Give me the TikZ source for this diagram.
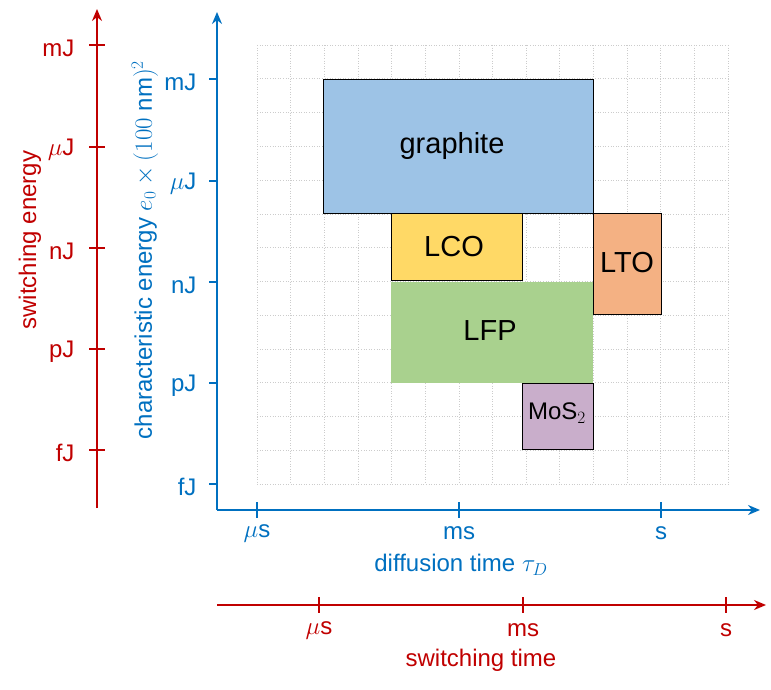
\documentclass[tikz,border=0pt]{standalone}
\usepackage{fontspec}
\setmainfont{Liberation Sans}
\usepackage{amsmath}
\usetikzlibrary{arrows.meta}
\definecolor{ablue}{HTML}{0070C0}
\definecolor{ared}{HTML}{C00000}
\definecolor{cgra}{HTML}{9DC3E6}
\definecolor{clco}{HTML}{FFD966}
\definecolor{clto}{HTML}{F4B183}
\definecolor{clfp}{HTML}{A9D18E}
\definecolor{cmos}{HTML}{C9AECB}
\begin{document}
\begin{tikzpicture}[x=1pt,y=-1pt,
  ax/.style={line width=1.8pt,-{Stealth[length=12pt,width=10pt]}},
  tk/.style={line width=1.4pt},
  lbl/.style={font=\fontsize{24}{28}\selectfont},
  box/.style={draw=black,line width=1pt},
  bl/.style={font=\fontsize{29}{32}\selectfont}]
\useasboundingbox (0,0) rectangle (771,690);
% grid
\foreach \i in {0,...,14} \draw[gray!40,dotted,line width=0.6pt] (257+33.64*\i,45) -- (257+33.64*\i,484);
\foreach \j in {0,...,13} \draw[gray!40,dotted,line width=0.6pt] (257,484-33.77*\j) -- (728,484-33.77*\j);
% boxes
\node[box,fill=cgra,minimum width=270pt,minimum height=134pt,anchor=north west,inner sep=0] (gra) at (323,79) {};
\node[bl] at (452,146) {graphite};
\node[box,fill=clco,minimum width=131pt,minimum height=67pt,anchor=north west,inner sep=0] (lco) at (391,213) {};
\node[bl] at (454,247) {LCO};
\node[box,fill=clto,minimum width=68pt,minimum height=101pt,anchor=north west,inner sep=0] (lto) at (593,213) {};
\node[bl] at (627,263) {LTO};
\node[fill=clfp,minimum width=202pt,minimum height=101pt,anchor=north west,inner sep=0] (lfp) at (391,282) {};
\node[bl] at (490,331) {LFP};
\node[box,fill=cmos,minimum width=71pt,minimum height=66pt,anchor=north west,inner sep=0] (mos) at (522,383) {};
\node[lbl] at (557,413) {MoS$_2$};
% blue axes
\coordinate (bo) at (217,510);
\coordinate (by) at (217,12);
\coordinate (bx) at (760,510);
\draw[ax,ablue] (bo) -- (by);
\draw[ax,ablue] (bo) -- (bx);
\foreach \y/\t in {79/mJ,181/$\mu$J,282/nJ,383/pJ,484/fJ} {
  \draw[tk,ablue] (209,\y) -- (217,\y);
  \node[lbl,ablue,anchor=east] at (200,\y+3) {\t};}
\foreach \x/\t in {257/$\mu$s,459/ms,661/s} {
  \draw[tk,ablue] (\x,502) -- (\x,518);
  \node[lbl,ablue] at (\x,533) {\t};}
\node[lbl,ablue] (dt) at (461,565) {diffusion time $\tau_D$};
\node[lbl,ablue,rotate=90] (ce) at (145,250) {characteristic energy $e_0\times(100\ \mathrm{nm})^2$};
% red axes
\coordinate (ro) at (97,508);
\coordinate (ry) at (97,9);
\draw[ax,ared] (ro) -- (ry);
\foreach \y/\t in {45/mJ,147/$\mu$J,248/nJ,349/pJ,450/fJ} {
  \draw[tk,ared] (89,\y) -- (105,\y);
  \node[lbl,ared,anchor=east] at (78,\y+3) {\t};}
\node[lbl,ared,rotate=90] (se) at (30,240) {switching energy};
\coordinate (rs) at (217,605);
\coordinate (re) at (766,605);
\draw[ax,ared] (rs) -- (re);
\foreach \x/\t in {319/$\mu$s,523/ms,726/s} {
  \draw[tk,ared] (\x,597) -- (\x,613);
  \node[lbl,ared] at (\x,630) {\t};}
\node[lbl,ared] (st) at (481,660) {switching time};
\end{tikzpicture}
\end{document}
